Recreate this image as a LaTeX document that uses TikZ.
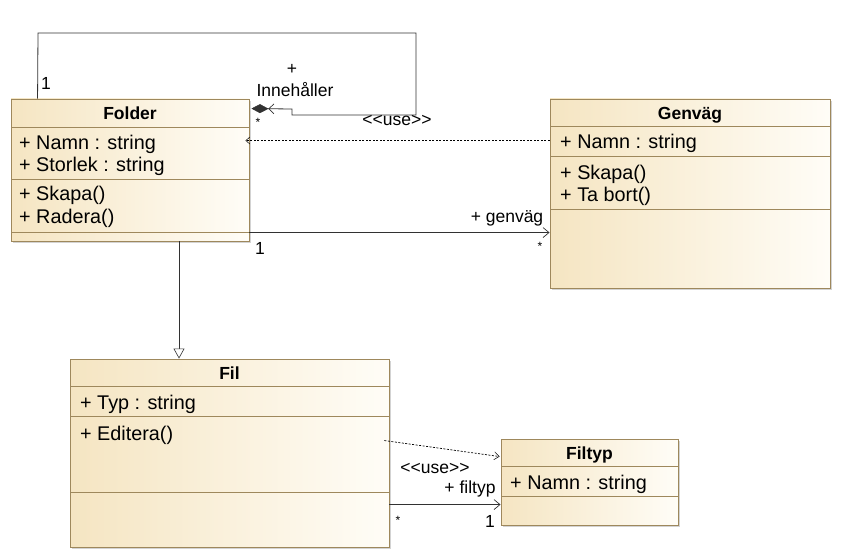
\documentclass[tikz,border=0pt]{standalone}
\usepackage{fontspec}
\setmainfont{Liberation Sans}
\usetikzlibrary{arrows.meta,shadows,calc}
\definecolor{boxborder}{RGB}{158,136,92}
\definecolor{boxleft}{RGB}{245,229,194}
\definecolor{boxright}{RGB}{255,253,247}
\definecolor{linecol}{RGB}{50,50,50}
\newcommand{\usetext}{<\kern0pt<use>\kern0pt>}
\tikzset{
  classbox/.style={draw=boxborder, line width=0.9pt, left color=boxleft, right color=boxright,
    rectangle, inner sep=0pt, drop shadow={shadow xshift=2pt, shadow yshift=-2pt, opacity=0.35, fill=gray}},
  sep/.style={draw=boxborder, line width=0.9pt},
  ctitle/.style={font=\fontsize{17.5}{20}\selectfont\bfseries, inner sep=0pt, anchor=base},
  member/.style={font=\fontsize{19.8}{22}\selectfont, anchor=base west, inner sep=0pt},
  lbl/.style={font=\fontsize{17.5}{20}\selectfont, inner sep=0pt, anchor=base},
  star/.style={font=\fontsize{12}{12}\selectfont, inner sep=0pt},
  assoc/.style={draw=linecol, line width=0.8pt},
  dep/.style={draw=black, line width=0.7pt, dash pattern=on 2pt off 1.5pt},
  openhead/.style={-{Straight Barb[length=6pt,width=10pt,line width=0.7pt]}},
}
\begin{document}
\begin{tikzpicture}[x=1pt,y=-1pt]
\useasboundingbox (0,0) rectangle (842,559);

% ---------- Folder ----------
\node[classbox, minimum width=238pt, minimum height=142pt] (folder) at (130,170) {};
\draw[sep] (11,127) -- (249,127);
\draw[sep] (11,179) -- (249,179);
\draw[sep] (11,232) -- (249,232);
\node[ctitle] (folderT) at (130,119) {Folder};
\node[member] (folderA1) at (19,149) {+ Namn : string};
\node[member] (folderA2) at (19,171) {+ Storlek : string};
\node[member] (folderO1) at (19,200) {+ Skapa()};
\node[member] (folderO2) at (19,223) {+ Radera()};

% ---------- Genvag ----------
\node[classbox, minimum width=280pt, minimum height=189pt] (genvag) at (690,193.5) {};
\draw[sep] (550,126) -- (830,126);
\draw[sep] (550,156) -- (830,156);
\draw[sep] (550,209) -- (830,209);
\node[ctitle] (genvagT) at (690,119) {Genväg};
\node[member] (genvagA1) at (560,148) {+ Namn : string};
\node[member] (genvagO1) at (560,179) {+ Skapa()};
\node[member] (genvagO2) at (560,201) {+ Ta bort()};

% ---------- Fil ----------
\node[classbox, minimum width=319pt, minimum height=188pt] (fil) at (229.5,453) {};
\draw[sep] (70,386) -- (389,386);
\draw[sep] (70,416) -- (389,416);
\draw[sep] (70,492) -- (389,492);
\node[ctitle] (filT) at (229.5,379) {Fil};
\node[member] (filA1) at (80,409) {+ Typ : string};
\node[member] (filO1) at (80,440) {+ Editera()};

% ---------- Filtyp ----------
\node[classbox, minimum width=177pt, minimum height=86pt] (filtyp) at (589.5,482) {};
\draw[sep] (501,466) -- (678,466);
\draw[sep] (501,496) -- (678,496);
\node[ctitle] (filtypT) at (589.5,459) {Filtyp};
\node[member] (filtypA1) at (510,489) {+ Namn : string};

% ---------- Self composition (Innehaller) ----------
\coordinate (selfStart) at ($(folder.north west)+(27,0)$);
\coordinate (selfEnd) at ($(folder.north east)+(2,10)$);
\draw[assoc, {Diamond[length=17pt,width=9pt,fill=linecol,line width=0.5pt] Straight Barb[length=5pt,width=10pt,line width=0.7pt]}-]
  (selfEnd) -- (292,109) -- (292,115) -- (416,115) -- (416,33) -- (38,33) -- (selfStart);
\node[lbl] (selfOne) at (46,90) {1};
\node[lbl] (selfPlus) at (292,75) {+};
\node[lbl] (selfName) at (295,96) {Innehåller};
\node[star] (selfStar) at (258,122) {*};

% ---------- Dependency Genvag -> Folder ----------
\coordinate (depG) at ($(genvag.north west)+(0,42)$);
\coordinate (depF) at ($(folder.north east)+(-4,42)$);
\draw[dep, -{Straight Barb[length=4pt,width=7pt,line width=0.5pt]}] (depG) -- (depF);
\node[lbl] (depGlbl) at (397,125) {\usetext};

% ---------- Association Folder -> Genvag ----------
\coordinate (asF) at ($(folder.north east)+(0,134)$);
\coordinate (asG) at ($(genvag.north west)+(0,134)$);
\draw[assoc, openhead] (asF) -- (asG);
\node[lbl] (asOne) at (260,254) {1};
\node[lbl] (asName) at (507,222) {+ genväg};
\node[star] (asStar) at (540,246) {*};

% ---------- Generalization Fil -> Folder ----------
\draw[assoc, -{Triangle[open,length=10pt,width=11pt,line width=0.6pt,fill=white]}]
  (folder.south -| 179,0) -- (fil.north -| 179,0);

% ---------- Dependency Fil -> Filtyp ----------
\coordinate (depFil) at ($(fil.north east)+(-5,82)$);
\coordinate (depFt) at ($(filtyp.north west)+(-1,18)$);
\draw[dep, -{Straight Barb[length=5pt,width=8pt,line width=0.5pt]}] (depFil) -- (depFt);
\node[lbl] (depFlbl) at (435,473) {\usetext};

% ---------- Association Fil -> Filtyp ----------
\coordinate (asFil) at ($(fil.north east)+(0,146)$);
\coordinate (asFt) at ($(filtyp.north west)+(0,66)$);
\draw[assoc, openhead] (asFil) -- (asFt);
\node[lbl] (asFtName) at (470,493) {+ filtyp};
\node[star] (asFtStar) at (398,520) {*};
\node[lbl] (asFtOne) at (490,527) {1};
\end{tikzpicture}
\end{document}
